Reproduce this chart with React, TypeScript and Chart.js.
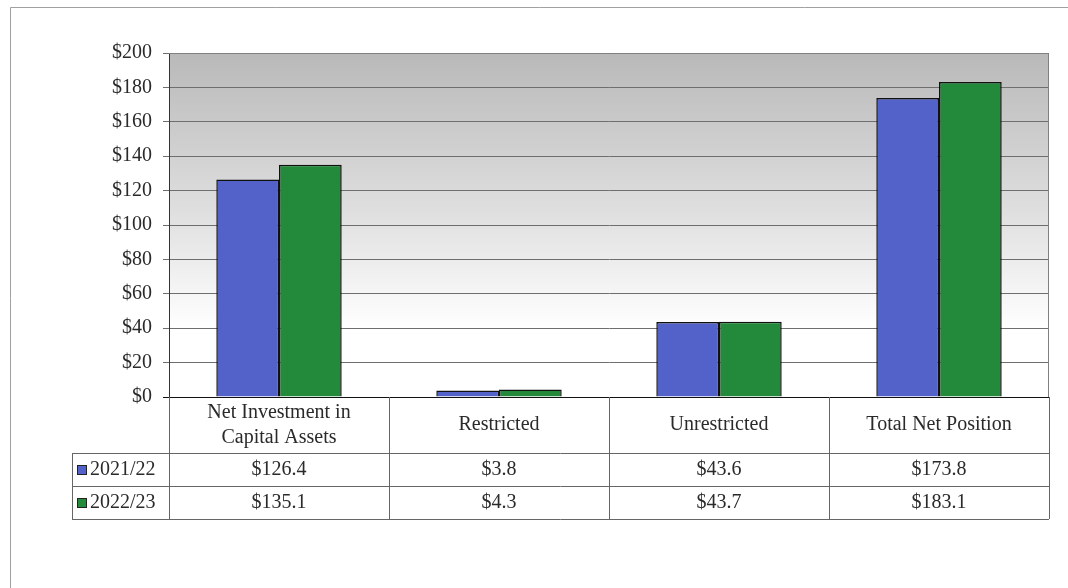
import React, { useEffect, useRef } from "react";
import { Chart, registerables } from "chart.js";

Chart.register(...registerables);

const categories: string[][] = [
  ["Net Investment in", "Capital Assets"],
  ["Restricted"],
  ["Unrestricted"],
  ["Total Net Position"],
];
const seriesNames = ["2021/22", "2022/23"];
const values2122 = [126.4, 3.8, 43.6, 173.8];
const values2223 = [135.1, 4.3, 43.7, 183.1];
const yTicks = [0, 20, 40, 60, 80, 100, 120, 140, 160, 180, 200];

const BLUE = "#5362c9";
const GREEN = "#238a3b";
const FONT = "'Liberation Serif', 'Times New Roman', serif";

const fmt = (v: number) => "$" + v.toFixed(1);

const framePlugin = {
  id: "frame",
  beforeDraw(chart: any) {
    const ctx = chart.ctx;
    const a = chart.chartArea;
    ctx.save();
    ctx.fillStyle = "#ffffff";
    ctx.fillRect(0, 0, chart.width, chart.height);
    ctx.strokeStyle = "#a0a0a0";
    ctx.lineWidth = 1;
    ctx.beginPath();
    ctx.moveTo(10.5, chart.height + 2);
    ctx.lineTo(10.5, 7.5);
    ctx.lineTo(chart.width + 2, 7.5);
    ctx.stroke();
    const g = ctx.createLinearGradient(0, a.top, 0, a.bottom);
    g.addColorStop(0, "#b9b9b9");
    g.addColorStop(0.45, "#dedede");
    g.addColorStop(0.8, "#ffffff");
    g.addColorStop(1, "#ffffff");
    ctx.fillStyle = g;
    ctx.fillRect(a.left, a.top, a.right - a.left, a.bottom - a.top);
    ctx.restore();
  },
  afterDraw(chart: any) {
    const ctx = chart.ctx;
    const a = chart.chartArea;
    const x = chart.scales.x;
    ctx.save();
    ctx.strokeStyle = "#808080";
    ctx.lineWidth = 1;
    ctx.beginPath();
    ctx.moveTo(a.left, a.top + 0.5);
    ctx.lineTo(a.right - 0.5, a.top + 0.5);
    ctx.lineTo(a.right - 0.5, a.bottom);
    ctx.stroke();

    const n = categories.length;
    const half = (a.right - a.left) / n / 2;
    const tableLeft = 72;
    const headerBottom = 453;
    const row1Bottom = 486;
    const row2Bottom = 519;
    ctx.strokeStyle = "#666666";
    ctx.lineWidth = 1;
    ctx.beginPath();
    for (let i = 0; i <= n; i++) {
      const cx = i < n ? x.getPixelForValue(i) - half : x.getPixelForValue(n - 1) + half;
      const px = Math.round(cx) + 0.5;
      ctx.moveTo(px, a.bottom);
      ctx.lineTo(px, row2Bottom);
    }
    ctx.moveTo(tableLeft + 0.5, headerBottom);
    ctx.lineTo(tableLeft + 0.5, row2Bottom);
    [headerBottom, row1Bottom, row2Bottom].forEach((y) => {
      ctx.moveTo(tableLeft, y + 0.5);
      ctx.lineTo(a.right, y + 0.5);
    });
    ctx.stroke();

    ctx.fillStyle = "#2a2a2a";
    ctx.font = "20px " + FONT;
    ctx.textAlign = "center";
    ctx.textBaseline = "middle";
    categories.forEach((lines, i) => {
      const cx = x.getPixelForValue(i);
      const mid = 425;
      const lh = 25;
      lines.forEach((ln, j) => {
        const y = mid + (j - (lines.length - 1) / 2) * lh;
        ctx.fillText(ln, cx, y);
      });
    });
    const rows = [values2122, values2223];
    const rowY = [470, 503];
    const colors = [BLUE, GREEN];
    rows.forEach((vals, r) => {
      vals.forEach((v, i) => {
        ctx.fillStyle = "#2a2a2a";
        ctx.textAlign = "center";
        ctx.fillText(fmt(v), x.getPixelForValue(i), rowY[r]);
      });
      ctx.fillStyle = colors[r];
      ctx.fillRect(77, rowY[r] - 5, 10, 10);
      ctx.strokeStyle = "#222";
      ctx.strokeRect(77.5, rowY[r] - 4.5, 9, 9);
      ctx.fillStyle = "#2a2a2a";
      ctx.textAlign = "left";
      ctx.fillText(seriesNames[r], 90, rowY[r]);
    });
    ctx.restore();
  },
};

export default function App() {
  const ref = useRef<HTMLCanvasElement | null>(null);
  useEffect(() => {
    document.body.style.margin = "0";
    const canvas = ref.current!;
    const chart = new Chart(canvas, {
      type: "bar",
      data: {
        labels: categories.map((c) => c.join(" ")),
        datasets: [
          {
            label: seriesNames[0],
            data: values2122,
            backgroundColor: BLUE,
            borderColor: "#111",
            borderWidth: 1.5,
            borderSkipped: "bottom",
          },
          {
            label: seriesNames[1],
            data: values2223,
            backgroundColor: GREEN,
            borderColor: "#111",
            borderWidth: 1.5,
            borderSkipped: "bottom",
          },
        ],
      },
      options: {
        responsive: false,
        animation: false,
        maintainAspectRatio: false,
        devicePixelRatio: 1,
        layout: { padding: { left: 0, top: 53, right: 19, bottom: 191 } },
        plugins: {
          legend: { display: false },
          tooltip: { enabled: false },
        },
        datasets: {
          bar: { categoryPercentage: 0.57, barPercentage: 1 },
        },
        scales: {
          x: {
            display: false,
            grid: { display: false },
          },
          y: {
            min: 0,
            max: 200,
            afterFit: (axis: any) => {
              axis.width = 169;
            },
            afterBuildTicks: (axis: any) => {
              axis.ticks = yTicks.map((v) => ({ value: v }));
            },
            border: { display: true, color: "#333", width: 1 },
            grid: {
              color: (c: any) => (c.tick && c.tick.value === 0 ? "#111" : "#6e6e6e"),
              lineWidth: 1,
              tickLength: 6,
              drawTicks: true,
            },
            ticks: {
              padding: 11,
              color: "#2a2a2a",
              font: { family: FONT, size: 20 },
              callback: (v: any) => "$" + v,
            },
          },
        },
      },
      plugins: [framePlugin],
    });
    return () => chart.destroy();
  }, []);
  return (
    <div style={{ width: 1068, height: 588 }}>
      <canvas ref={ref} width={1068} height={588} style={{ display: "block" }} />
    </div>
  );
}
